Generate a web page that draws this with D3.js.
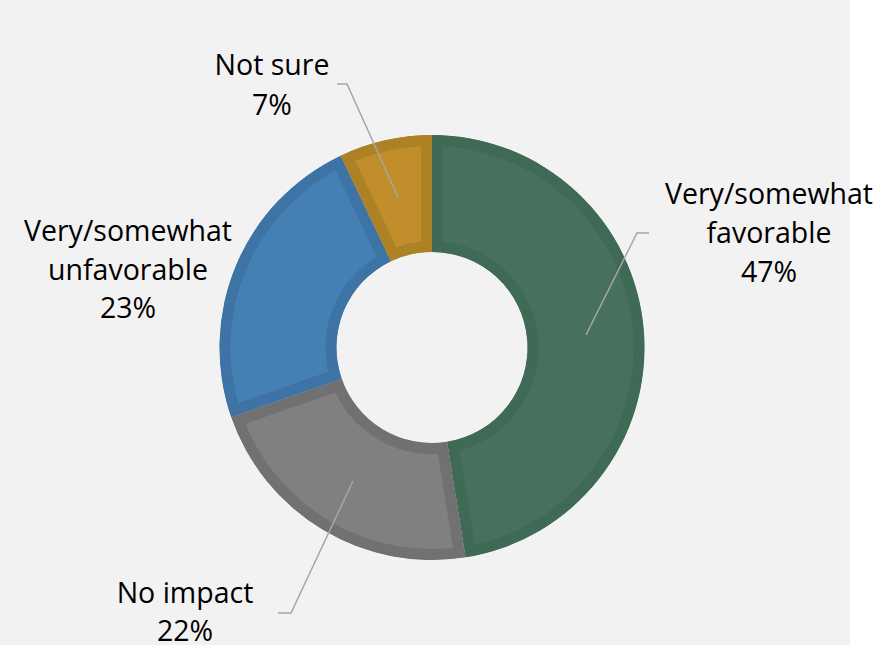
<!DOCTYPE html>
<html>
<head>
<meta charset="utf-8">
<script src="https://cdn.jsdelivr.net/npm/d3@7"></script>
<style>
  html, body { margin: 0; padding: 0; background: #ffffff; }
  svg { display: block; }
  text { font-family: "Open Sans", "Noto Sans", sans-serif; fill: #000; }
</style>
</head>
<body>
<svg id="chart" width="882" height="645"></svg>
<script>
// ---- data ----
const categories = ["Very/somewhat favorable", "No impact", "Very/somewhat unfavorable", "Not sure"];
const values = [47, 22, 23, 7];
const labelLines = [
  ["Very/somewhat", "favorable", "47%"],
  ["No impact", "22%"],
  ["Very/somewhat", "unfavorable", "23%"],
  ["Not sure", "7%"]
];
const fillColors = ["#47715d", "#808080", "#4580b5", "#c18e2c"];
const edgeColors = ["#3f6a55", "#717171", "#3e74a5", "#ad8225"];

// ---- layout ----
const W = 882, H = 645;
const cx = 432, cy = 347.5;
const outerR = 212.5, innerR = 95.5;
const border = 11;

const svg = d3.select("#chart");
svg.append("rect").attr("x", 0).attr("y", 0).attr("width", 850).attr("height", H).attr("fill", "#f2f2f2");

const pie = d3.pie().sort(null).value(d => d.value);
const arcs = pie(categories.map((c, i) => ({ name: c, value: values[i], i })));
const arc = d3.arc().innerRadius(innerR).outerRadius(outerR);

const defs = svg.append("defs");
arcs.forEach((a, i) => {
  defs.append("clipPath").attr("id", "clip" + i)
    .append("path").attr("d", arc(a)).attr("transform", `translate(${cx},${cy})`);
});

// slices with inner border (stroke clipped to the slice shape)
arcs.forEach((a, i) => {
  svg.append("g").attr("clip-path", `url(#clip${i})`)
    .append("path")
    .attr("transform", `translate(${cx},${cy})`)
    .attr("d", arc(a))
    .attr("fill", fillColors[i])
    .attr("stroke", edgeColors[i])
    .attr("stroke-width", border * 2);
});

// ---- leader lines ----
const leaderSpecs = [
  [[586, 335], [637, 233], [649, 233]],
  [[353, 481], [291, 613], [278, 613]],
  null,
  [[398, 197], [347, 84], [337, 84]]
];
leaderSpecs.forEach(pts => {
  if (!pts) return;
  svg.append("path")
    .attr("d", d3.line()(pts))
    .attr("fill", "none")
    .attr("stroke", "#a6a6a6")
    .attr("stroke-width", 1.5);
});

// ---- labels ----
const labelPos = [
  { x: 769, y: 204, dy: 39 },
  { x: 185, y: 603, dy: 38 },
  { x: 128, y: 241, dy: 38.5 },
  { x: 272, y: 75, dy: 40 }
];
const fontSize = 28.5;
labelLines.forEach((lines, i) => {
  const t = svg.append("text")
    .attr("text-anchor", "middle")
    .attr("font-size", fontSize);
  lines.forEach((ln, j) => {
    t.append("tspan").attr("x", labelPos[i].x).attr("y", labelPos[i].y + j * labelPos[i].dy).text(ln);
  });
});
</script>
</body>
</html>
